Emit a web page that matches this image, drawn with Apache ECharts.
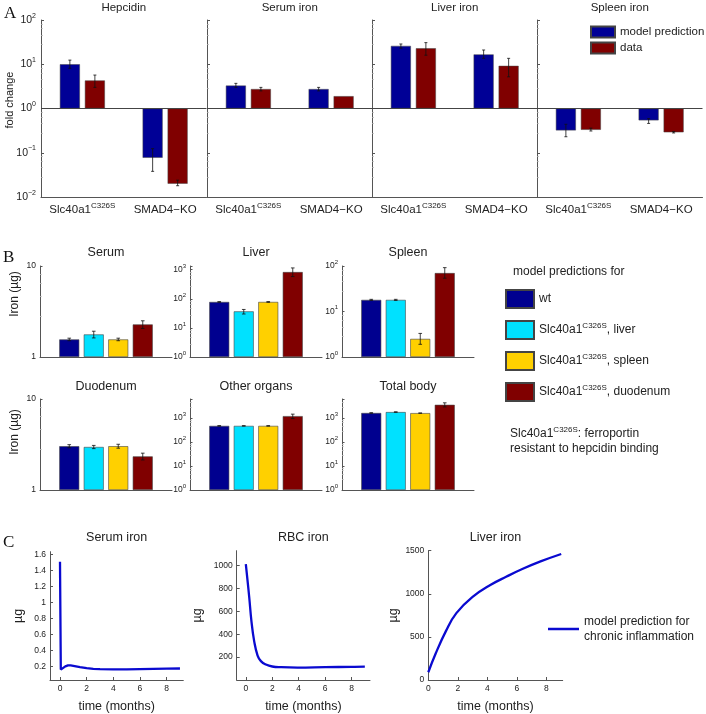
<!DOCTYPE html>
<html><head><meta charset="utf-8">
<script src="https://cdn.jsdelivr.net/npm/echarts@6/dist/echarts.min.js"></script>
<style>html,body{margin:0;padding:0;background:#fff}#c{width:706px;height:714px}</style>
</head><body><div id="c"></div>
<script>
// ================= DATA =================
// Panel A: fold change (log scale)
const aCategories = ['Slc40a1^{C326S}', 'SMAD4−KO'];
const aTitles = ['Hepcidin', 'Serum iron', 'Liver iron', 'Spleen iron'];
const aSeriesNames = ['model prediction', 'data'];
const aModel     = [[10, 0.077], [3.3, 2.75], [26, 16.7], [0.32, 0.54]];
const aModelLow  = [[8.1, 0.038], [3.0, 2.5], [23, 13.6], [0.23, 0.46]];
const aModelHigh = [[12.4, 0.124], [3.7, 3.0], [28.7, 21], [0.44, 0.59]];
const aData      = [[4.3, 0.02], [2.75, 1.9], [23, 9.2], [0.33, 0.29]];
const aDataLow   = [[3.0, 0.018], [2.5, 1.9], [16, 5.2], [0.31, 0.28]];
const aDataHigh  = [[5.7, 0.024], [3.0, 1.9], [30.8, 13.6], [0.36, 0.30]];

// Panel B: iron (µg), per organ: [wt, liver, spleen, duodenum]
const bTitles = ['Serum', 'Liver', 'Spleen', 'Duodenum', 'Other organs', 'Total body'];
const bScenarios = ['wt', 'Slc40a1^{C326S}, liver', 'Slc40a1^{C326S}, spleen', 'Slc40a1^{C326S}, duodenum'];
const bValues = [
  [1.56, 1.77, 1.56, 2.28],
  [78, 37, 78, 830],
  [18, 18, 2.5, 70],
  [3.03, 2.97, 3.03, 2.34],
  [470, 470, 470, 1200],
  [1620, 1770, 1600, 3550]
];
const bLow = [
  [1.51, 1.62, 1.51, 2.06],
  [76, 30, 76, 580],
  [17.5, 17.5, 1.9, 54],
  [2.91, 2.85, 2.88, 2.14],
  [460, 462, 462, 950],
  [1580, 1730, 1590, 2900]
];
const bHigh = [
  [1.61, 1.92, 1.61, 2.5],
  [80, 43, 80, 1150],
  [18.5, 18.5, 3.3, 92],
  [3.15, 3.09, 3.18, 2.54],
  [480, 478, 478, 1450],
  [1660, 1810, 1610, 4300]
];
const bAxisMax = [10, 1340, 100, 10, 6200, 6200];

// Panel C: time courses
const cTitles = ['Serum iron', 'RBC iron', 'Liver iron'];
const cLegendName = 'model prediction for\nchronic inflammation';
const cSerumT = [0, 0.06, 0.1, 0.2, 0.4, 0.6, 0.8, 1.0, 1.5, 2, 2.5, 3, 4, 5, 6, 7, 8, 9];
const cSerumV = [1.51, 0.16, 0.152, 0.175, 0.2, 0.212, 0.213, 0.208, 0.192, 0.178, 0.17, 0.165, 0.163, 0.164, 0.167, 0.17, 0.172, 0.174];
const cRbcT = [0, 0.25, 0.43, 0.63, 0.89, 1.14, 1.52, 2, 2.67, 3.9, 6, 8, 9];
const cRbcV = [1013, 732, 508, 340, 213, 165, 135, 118, 112, 109, 112, 115, 117];
const cLiverT = [0, 0.5, 1.2, 1.9, 3, 4.2, 5.3, 6.4, 7.6, 9];
const cLiverV = [90, 307, 570, 776, 964, 1102, 1200, 1290, 1376, 1462];
const cSerumTicks = [0.2, 0.4, 0.6, 0.8, 1, 1.2, 1.4, 1.6];
const cRbcTicks = [200, 400, 600, 800, 1000];
const cLiverTicks = [0, 500, 1000, 1500];
const cTimeTicks = [0, 2, 4, 6, 8];

// ================= STYLE / LAYOUT =================
const FONT = '"Liberation Sans", Arial, Helvetica, sans-serif';
const SERIF = '"Liberation Serif", "DejaVu Serif", serif';
const TXT = '#222';
const AX = '#555';

function supRich(fs, sfs) {
  return {
    n: {fontSize: fs, fontFamily: FONT, color: TXT, lineHeight: fs + 5},
    s: {fontSize: sfs, fontFamily: FONT, color: TXT, lineHeight: sfs + 1, verticalAlign: 'top'}
  };
}
function toRich(str) {
  const parts = String(str).split(/\^\{([^}]*)\}/);
  let out = '';
  parts.forEach((p, i) => {
    if (p === '') return;
    p.split('\n').forEach((line, k) => {
      if (k > 0) out += '\n';
      if (line !== '') out += (i % 2 ? '{s|' : '{n|') + line + '}';
    });
  });
  return out;
}
function powLabel(v) {
  const e = Math.log10(v), r = Math.round(e);
  if (Math.abs(e - r) > 1e-6) return '';
  return '{n|10}{s|' + (r < 0 ? '−' + (-r) : r) + '}';
}
function plainNum(v) { return String(v); }
function errRender(offset, cap) {
  return function (params, api) {
    const x = api.value(0), lo = api.value(1), hi = api.value(2);
    if (lo === hi) return null;
    const pLo = api.coord([x, lo]), pHi = api.coord([x, hi]);
    const cx = pLo[0] + offset;
    const st = {stroke: '#111', lineWidth: 0.8};
    return {type: 'group', children: [
      {type: 'line', shape: {x1: cx, y1: pLo[1], x2: cx, y2: pHi[1]}, style: st},
      {type: 'line', shape: {x1: cx - cap, y1: pLo[1], x2: cx + cap, y2: pLo[1]}, style: st},
      {type: 'line', shape: {x1: cx - cap, y1: pHi[1], x2: cx + cap, y2: pHi[1]}, style: st}
    ]};
  };
}

const grids = [], xAxes = [], yAxes = [], series = [], titles = [];
function titleAt(text, cx, top, fs) {
  titles.push({text: text, left: cx, top: top, textAlign: 'center', padding: 0,
    textStyle: {fontSize: fs, fontWeight: 'normal', fontFamily: FONT, color: TXT}});
}

// ---- Panel A ----
const A_LEFT = [41, 207, 372, 537], A_W = 165.5, A_TOP = 20, A_H = 177;
const A_COLORS = ['#000096', '#800000'];
const A_BARW = 20, A_GAP = 5;
aTitles.forEach((t, g) => {
  grids.push({left: A_LEFT[g], top: A_TOP, width: A_W, height: A_H});
  const gi = grids.length - 1;
  xAxes.push({gridIndex: gi, type: 'category', data: aCategories,
    axisLine: {lineStyle: {color: AX}},
    axisTick: {inside: true, alignWithLabel: true, length: 3, lineStyle: {color: AX}},
    axisLabel: {interval: 0, formatter: toRich, margin: 5, rich: supRich(11.5, 8)}});
  yAxes.push({gridIndex: gi, type: 'log', logBase: 10, min: 0.01, max: 100,
    axisLine: {show: true, lineStyle: {color: AX}},
    axisTick: {show: true, inside: true, length: 3, lineStyle: {color: AX}},
    minorTick: {show: true, splitNumber: 5, length: 1.5, lineStyle: {color: '#999'}},
    splitLine: {show: false}, minorSplitLine: {show: false},
    axisLabel: {show: g === 0, formatter: powLabel, margin: 5, rich: supRich(10.5, 7)}});
  titleAt(t, A_LEFT[g] + A_W / 2, 2, 11.5);
  const vals = [aModel, aData], lows = [aModelLow, aDataLow], highs = [aModelHigh, aDataHigh];
  vals.forEach((v, s) => {
    const bar = {type: 'bar', name: aSeriesNames[s], xAxisIndex: gi, yAxisIndex: gi,
      data: v[g], barWidth: A_BARW, barGap: (A_GAP / A_BARW * 100) + '%',
      itemStyle: {color: A_COLORS[s], borderColor: '#444', borderWidth: 0.5}};
    if (s === 0) bar.markLine = {silent: true, symbol: 'none', label: {show: false},
      lineStyle: {color: '#444', width: 1, type: 'solid'}, data: [{yAxis: 1}]};
    series.push(bar);
    const off = (s - 0.5) * (A_BARW + A_GAP);
    series.push({type: 'custom', xAxisIndex: gi, yAxisIndex: gi, silent: true, z: 5,
      renderItem: errRender(off, 1.5),
      data: v[g].map((_, i) => [i, lows[s][g][i], highs[s][g][i]])});
  });
});

// ---- Panel B ----
const B_LEFT = [40, 190, 342], B_TOP = [266, 399], B_W = 132, B_H = 91;
const B_COLORS = ['#00008F', '#00E1FF', '#FFD000', '#800000'];
const B_BARW = 20, B_GAP = 4.5;
const B_TITLE_Y = [246, 380];
bTitles.forEach((t, g) => {
  const row = Math.floor(g / 3), col = g % 3;
  grids.push({left: B_LEFT[col], top: B_TOP[row], width: B_W, height: B_H});
  const gi = grids.length - 1;
  const plain = (bAxisMax[g] === 10);
  xAxes.push({gridIndex: gi, type: 'category', data: [''],
    axisLine: {lineStyle: {color: AX}},
    axisTick: {inside: true, alignWithLabel: true, length: 2, lineStyle: {color: AX}},
    axisLabel: {show: false}});
  yAxes.push({gridIndex: gi, type: 'log', logBase: 10, min: 1, max: bAxisMax[g],
    axisLine: {show: true, lineStyle: {color: AX}},
    axisTick: {show: true, inside: true, length: 2.5, lineStyle: {color: AX}},
    minorTick: {show: true, splitNumber: 5, length: 1.5, lineStyle: {color: '#aaa'}},
    splitLine: {show: false}, minorSplitLine: {show: false},
    axisLabel: plain
      ? {fontSize: 8.5, fontFamily: FONT, color: TXT, margin: 4,
         formatter: v => (Math.abs(Math.log10(v) - Math.round(Math.log10(v))) < 1e-6 ? String(v) : '')}
      : {formatter: powLabel, margin: 4, rich: supRich(8.5, 6)}});
  titleAt(t, B_LEFT[col] + B_W / 2, B_TITLE_Y[row], 12.5);
  bScenarios.forEach((name, s) => {
    series.push({type: 'bar', name: name, xAxisIndex: gi, yAxisIndex: gi,
      data: [bValues[g][s]], barWidth: B_BARW, barGap: (B_GAP / B_BARW * 100) + '%',
      itemStyle: {color: B_COLORS[s], borderColor: '#444', borderWidth: 0.6}});
    const off = (s - 1.5) * (B_BARW + B_GAP);
    series.push({type: 'custom', xAxisIndex: gi, yAxisIndex: gi, silent: true, z: 5,
      renderItem: errRender(off, 1.8),
      data: [[0, bLow[g][s], bHigh[g][s]]]});
  });
});

// ---- Panel C ----
const C_GRID = [
  {left: 50, top: 551.7, width: 133.3, height: 132.3},
  {left: 236.7, top: 550.7, width: 133.3, height: 133.3},
  {left: 428.3, top: 550.7, width: 134.4, height: 133.3}
];
const C_X = [[-0.75, 9.25], [-0.69, 9.39], [0, 9.1]];
const C_Y = [[0.03, 1.635], [0, 1130], [0, 1500]];
const C_YTICKS = [cSerumTicks, cRbcTicks, cLiverTicks];
const C_NAMEGAP = [25, 33, 28];
const C_T = [cSerumT, cRbcT, cLiverT], C_V = [cSerumV, cRbcV, cLiverV];
const C_SMOOTH = [false, 0.45, 0.45];
cTitles.forEach((t, g) => {
  grids.push(C_GRID[g]);
  const gi = grids.length - 1;
  const lab = {fontSize: 8.5, fontFamily: FONT, color: TXT, margin: 4, formatter: plainNum};
  xAxes.push({gridIndex: gi, type: 'value', min: C_X[g][0], max: C_X[g][1],
    axisLine: {show: true, onZero: false, lineStyle: {color: AX}},
    axisTick: {show: true, inside: true, length: 3, customValues: cTimeTicks, lineStyle: {color: AX}},
    axisLabel: Object.assign({customValues: cTimeTicks}, lab),
    splitLine: {show: false},
    name: 'time (months)', nameLocation: 'middle', nameGap: 20,
    nameTextStyle: {fontSize: 12.5, fontFamily: FONT, color: TXT}});
  yAxes.push({gridIndex: gi, type: 'value', min: C_Y[g][0], max: C_Y[g][1],
    axisLine: {show: true, onZero: false, lineStyle: {color: AX}},
    axisTick: {show: true, inside: true, length: 3, customValues: C_YTICKS[g], lineStyle: {color: AX}},
    axisLabel: Object.assign({customValues: C_YTICKS[g]}, lab),
    splitLine: {show: false},
    name: 'µg', nameLocation: 'middle', nameGap: C_NAMEGAP[g],
    nameTextStyle: {fontSize: 12.5, fontFamily: FONT, color: TXT}});
  titleAt(t, C_GRID[g].left + C_GRID[g].width / 2, 531, 12.5);
  series.push({type: 'line', name: cLegendName, xAxisIndex: gi, yAxisIndex: gi,
    data: C_T[g].map((x, i) => [x, C_V[g][i]]),
    showSymbol: false, smooth: C_SMOOTH[g],
    lineStyle: {color: '#0a0ad0', width: 2.3}, itemStyle: {color: '#0a0ad0'}});
});

const option = {
  animation: false,
  backgroundColor: '#fff',
  textStyle: {fontFamily: FONT},
  title: titles,
  grid: grids,
  xAxis: xAxes,
  yAxis: yAxes,
  series: series,
  legend: [
    {data: aSeriesNames, left: 590, top: 25, orient: 'vertical', icon: 'rect',
     itemWidth: 24, itemHeight: 11, itemGap: 2, padding: 0, selectedMode: false,
     textStyle: {fontSize: 11.5, fontFamily: FONT, color: TXT, lineHeight: 14}},
    {data: bScenarios, left: 505, top: 289, orient: 'vertical', icon: 'rect',
     itemWidth: 28, itemHeight: 18, itemGap: 11, padding: 0, selectedMode: false,
     formatter: toRich, textStyle: {rich: supRich(12, 8)}},
    {data: [cLegendName], left: 548, top: 614, icon: 'rect',
     itemWidth: 31, itemHeight: 2.5, padding: 0, selectedMode: false,
     textStyle: {fontSize: 12, fontFamily: FONT, color: TXT, lineHeight: 15}}
  ],
  graphic: [
    {type: 'text', x: 4, y: 5, style: {text: 'A', fontSize: 17, fontFamily: SERIF, fill: '#111'}},
    {type: 'text', x: 3, y: 249, style: {text: 'B', fontSize: 17, fontFamily: SERIF, fill: '#111'}},
    {type: 'text', x: 3, y: 534, style: {text: 'C', fontSize: 17, fontFamily: SERIF, fill: '#111'}},
    {type: 'text', x: 10, y: 100, rotation: Math.PI / 2,
     style: {text: 'fold change', fontSize: 11, fontFamily: FONT, fill: TXT, align: 'center', verticalAlign: 'middle', textAlign: 'center', textVerticalAlign: 'middle'}},
    {type: 'text', x: 15, y: 294, rotation: Math.PI / 2,
     style: {text: 'Iron (µg)', fontSize: 12, fontFamily: FONT, fill: TXT, align: 'center', verticalAlign: 'middle', textAlign: 'center', textVerticalAlign: 'middle'}},
    {type: 'text', x: 15, y: 432, rotation: Math.PI / 2,
     style: {text: 'Iron (µg)', fontSize: 12, fontFamily: FONT, fill: TXT, align: 'center', verticalAlign: 'middle', textAlign: 'center', textVerticalAlign: 'middle'}},
    {type: 'text', x: 513, y: 266,
     style: {text: 'model predictions for', fontSize: 12, fontFamily: FONT, fill: TXT}},
    {type: 'text', x: 510, y: 426,
     style: {text: toRich('Slc40a1^{C326S}: ferroportin\nresistant to hepcidin binding'), rich: {
       n: {fontSize: 12, fontFamily: FONT, fill: TXT, color: TXT, lineHeight: 15},
       s: {fontSize: 8, fontFamily: FONT, fill: TXT, color: TXT, lineHeight: 9, verticalAlign: 'top'}}}}
  ]
};

const chart = echarts.init(document.getElementById('c'), null, {renderer: 'canvas'});
chart.setOption(option);
</script>
</body></html>
